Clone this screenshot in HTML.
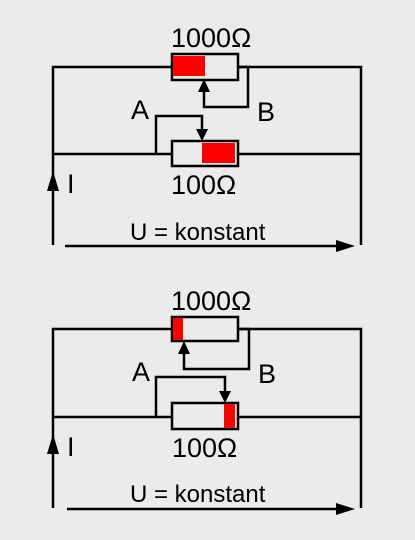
<!DOCTYPE html>
<html><head><style>html,body{margin:0;padding:0;background:#ebebeb}svg{display:block}</style></head>
<body>
<svg width="415" height="540" xmlns="http://www.w3.org/2000/svg" font-family="Liberation Sans, sans-serif">
<rect width="415" height="540" fill="#ebebeb"/>
<g stroke="#000" stroke-width="2.5" fill="none">
<polyline points="53,245 53,67 172,67"/>
<polyline points="238,67 361,67 361,245"/>
<line x1="53" y1="154" x2="172" y2="154"/>
<line x1="238" y1="154" x2="361" y2="154"/>
<rect x="172" y="54" width="66" height="26" fill="#ebebeb"/>
<rect x="173" y="56" width="32" height="20" fill="#ff0000" stroke="none"/>
<polyline points="238,67 248,67 248,107 204,107 204,90"/>
<polyline points="156,154 156,116 202,116 202,131"/>
<rect x="172" y="141" width="66" height="25" fill="#ebebeb"/>
<rect x="202" y="143" width="33" height="20" fill="#ff0000" stroke="none"/>
<polyline points="53,508 53,329 172,329"/>
<polyline points="238,329 361,329 361,508"/>
<line x1="53" y1="417" x2="172" y2="417"/>
<line x1="238" y1="417" x2="361" y2="417"/>
<rect x="172" y="317" width="66" height="24" fill="#ebebeb"/>
<rect x="173" y="318" width="10" height="22" fill="#ff0000" stroke="none"/>
<polyline points="238,329 249,329 249,369 184,369 184,351"/>
<polyline points="156,417 156,377 225,377 225,393"/>
<rect x="172" y="403" width="66" height="26" fill="#ebebeb"/>
<rect x="224" y="404" width="11" height="24" fill="#ff0000" stroke="none"/>
<line x1="65" y1="246" x2="340" y2="246"/>
<line x1="67" y1="509" x2="340" y2="509"/>
</g>
<g fill="#000">
<path d="M204,79 L198,92 L210,92 z"/>
<path d="M202,141 L196,129 L208,129 z"/>
<path d="M184,341 L178,354 L190,354 z"/>
<path d="M225,403 L219,391 L231,391 z"/>
<path d="M53,171 L47,191 L59,191 z"/>
<path d="M53,434 L47,454 L59,454 z"/>
<path d="M355,246 L336,240 L336,252 z"/>
<path d="M355,509 L336,503 L336,515 z"/>
</g>
<g font-size="27" fill="#000">
<text x="171" y="47">1000Ω</text>
<text x="131" y="119">A</text>
<text x="257" y="121">B</text>
<text x="171" y="194">100Ω</text>
<text x="67" y="193">I</text>
<text x="130" y="240" font-size="24">U = konstant</text>
<text x="171" y="310">1000Ω</text>
<text x="132" y="381">A</text>
<text x="258" y="383">B</text>
<text x="172" y="457">100Ω</text>
<text x="67" y="456">I</text>
<text x="130" y="502" font-size="24">U = konstant</text>
</g>
</svg>
</body></html>
